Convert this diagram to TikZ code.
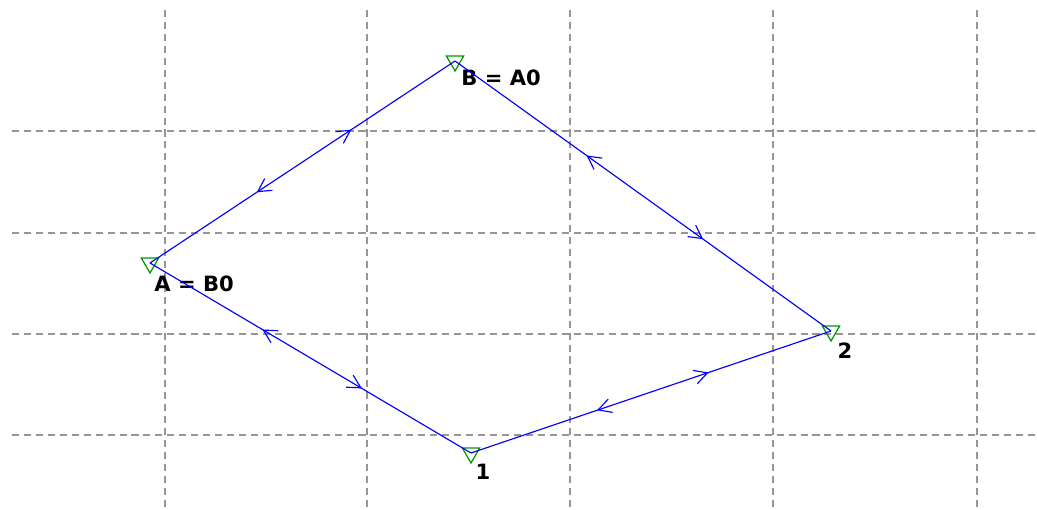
\documentclass[tikz,border=0pt]{standalone}
\usepackage{fontspec}
\setmainfont{DejaVu Sans}
\usetikzlibrary{arrows.meta,shapes.geometric,decorations.markings}
\definecolor{gridgray}{RGB}{150,150,150}
\definecolor{linkblue}{RGB}{0,0,255}
\definecolor{markgreen}{RGB}{0,150,0}

\begin{document}
\begin{tikzpicture}[x=0.02cm, y=-0.02cm,
  % Node Styles
  pnode/.style={regular polygon, regular polygon sides=3, shape border rotate=180, draw=markgreen, line width=0.7pt, minimum size=0.4cm, inner sep=0pt},
  plabel/.style={font=\bfseries\fontsize{12}{14}\selectfont, text=black, inner sep=0pt},
  % Line Styles
  gridline/.style={gridgray, line width=0.6pt, dash pattern=on 4pt off 2.8pt},
  link/.style={linkblue, line width=0.65pt, postaction={decorate},
    decoration={markings,
      mark=at position 0.35 with {\arrowreversed{Straight Barb[length=2.6mm,width=2.8mm]}},
      mark=at position 0.66 with {\arrow{Straight Barb[length=2.6mm,width=2.8mm]}}}}
]
\useasboundingbox (0,0) rectangle (1037,510);

% grid
\foreach \gy in {131,233,334,435}
  \draw[gridline] (12,\gy) -- (1037,\gy);
\foreach \gx in {165,367,570,773,977}
  \draw[gridline] (\gx,10) -- (\gx,510);

% points
\node[pnode] (P_A) at (150,263) {};
\node[pnode] (P_B) at (455,61) {};
\node[pnode] (P_1) at (471,453) {};
\node[pnode] (P_2) at (831,331) {};

\node[plabel, anchor=west] (L_A) at (154,284) {A = B0};
\node[plabel, anchor=west] (L_B) at (461,78) {B = A0};
\node[plabel] (L_1) at (483,472) {1};
\node[plabel] (L_2) at (845,351) {2};

% links
\draw[link] (P_A.center) -- (P_B.center);
\draw[link] (P_B.center) -- (P_2.center);
\draw[link] (P_A.center) -- (P_1.center);
\draw[link] (P_1.center) -- (P_2.center);

\end{tikzpicture}
\end{document}
